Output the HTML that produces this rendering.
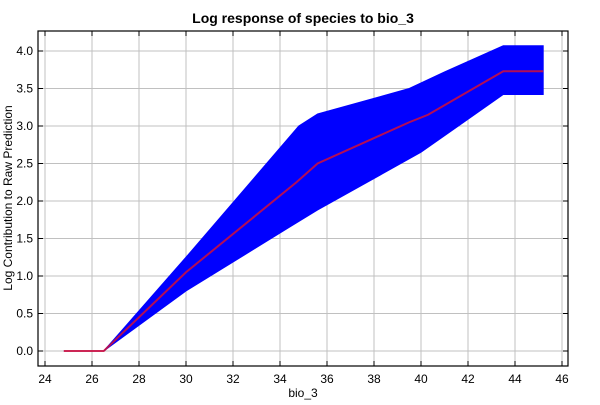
<!DOCTYPE html>
<html><head><meta charset="utf-8"><style>
body{margin:0;background:#fff;font-family:"Liberation Sans",sans-serif}
</style></head><body>
<svg width="600" height="400" id="c" font-family="Liberation Sans, sans-serif"></svg>
<script>
const xs=[24.8,26.5,30,34.7,35.6,39.5,40.3,43.5,45.2];
const meanV=[0,0,1.05,2.25,2.5,3.05,3.15,3.73,3.73];
const upX=[24.8,26.5,30,34.8,35.6,39.5,41,43.5,45.2];
const upV=[0,0,1.25,3.0,3.16,3.5,3.72,4.07,4.07];
const loX=[24.8,26.5,30,34.4,35.6,40,43.5,45.2];
const loV=[0,0,0.8,1.65,1.88,2.65,3.42,3.42];
const xTicks=[24,26,28,30,32,34,36,38,40,42,44,46];
const yTicks=[0,0.5,1,1.5,2,2.5,3,3.5,4];
const X=v=>45+(v-24)*23.5, Y=v=>351-v*75;
const L=38,R=568,T=31,B=366;
const s=document.getElementById('c');const NS='http://www.w3.org/2000/svg';
function mk(t,a,txt){const e=document.createElementNS(NS,t);for(const k in a)e.setAttribute(k,a[k]);if(txt!=null)e.textContent=txt;s.appendChild(e);return e;}
xTicks.forEach(t=>{
const g=mk('line',{x1:X(t),x2:X(t),y1:T,y2:B,stroke:'#c0c0c0','stroke-width':1});

mk('line',{x1:X(t),x2:X(t),y1:B,y2:B-5,stroke:'#000'});mk('line',{x1:X(t),x2:X(t),y1:T,y2:T+5,stroke:'#000'});
const l=mk('text',{x:X(t),y:383,'text-anchor':'middle','font-size':12},t);
});
yTicks.forEach(t=>{
const g=mk('line',{x1:L,x2:R,y1:Y(t),y2:Y(t),stroke:'#c0c0c0','stroke-width':1});

mk('line',{x1:L,x2:L+5,y1:Y(t),y2:Y(t),stroke:'#000'});mk('line',{x1:R,x2:R-5,y1:Y(t),y2:Y(t),stroke:'#000'});
const l=mk('text',{x:33,y:Y(t)+4,'text-anchor':'end','font-size':12},t.toFixed(1));
});
let pts=upX.map((x,i)=>X(x)+','+Y(upV[i]));
for(let i=loX.length-1;i>=0;i--)pts.push(X(loX[i])+','+Y(loV[i]));
const band=mk('polygon',{points:pts.join(' '),fill:'#0000ff',stroke:'#0000ff','stroke-width':1});

const ln=mk('polyline',{points:xs.map((x,i)=>X(x)+','+Y(meanV[i])).join(' '),fill:'none',stroke:'#e0102a','stroke-width':2,'stroke-opacity':0.8});

const f=mk('rect',{x:L,y:T,width:R-L,height:B-T,fill:'none',stroke:'#000','stroke-width':1.2});

const ti=mk('text',{x:303,y:23,'text-anchor':'middle','font-size':14,'font-weight':'bold'},'Log response of species to bio_3');

const xl=mk('text',{x:303,y:397,'text-anchor':'middle','font-size':12},'bio_3');

const yl=mk('text',{x:0,y:0,'text-anchor':'middle','font-size':12,transform:'translate(12,198) rotate(-90)'},'Log Contribution to Raw Prediction');

</script>
</body></html>
